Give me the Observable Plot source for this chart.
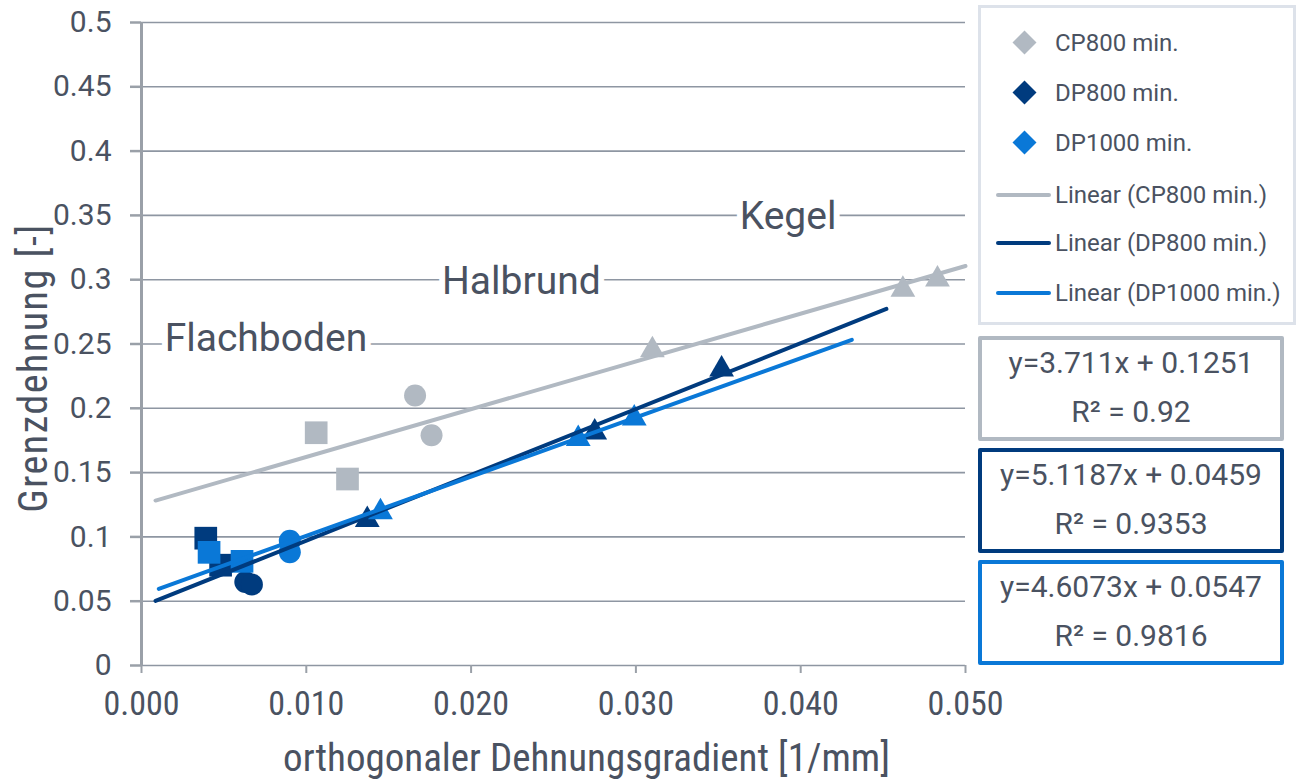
<!DOCTYPE html>
<html><head><meta charset="utf-8">
<script src="https://cdn.jsdelivr.net/npm/d3@7"></script>
<script src="https://cdn.jsdelivr.net/npm/@observablehq/plot@0.6"></script>
<style>
body{margin:0;background:#fff;}
#wrap{position:relative;width:1299px;height:779px;overflow:hidden;font-family:Roboto,"Noto Sans",sans-serif;color:#4a5261;}
#wrap svg{position:absolute;left:0;top:0;}
.legend{position:absolute;left:978px;top:5px;width:312px;height:314px;border:3px solid #dde2ea;background:#fff;}
.li{position:absolute;left:0;height:30px;font-size:24px;line-height:30px;white-space:nowrap;width:310px;}
.li .txt{position:absolute;left:74px;}
.dia{position:absolute;left:35px;top:6px;width:17px;height:17px;transform:rotate(45deg);}
.ln{position:absolute;left:15px;top:13px;width:55px;height:4px;border-radius:2px;}
.eq{position:absolute;left:978px;width:298px;height:97px;background:#fff;text-align:center;font-size:30px;}
.eq div{position:absolute;left:0;right:0;height:34px;line-height:34px;}
</style></head><body><div id="wrap"></div>
<script>
// series
const seriesNames = ["CP800 min.", "DP800 min.", "DP1000 min."];
const seriesColors = ["#b1b9c2", "#003b7e", "#0a78d7"];
// geometry of each point (marker shape)
const cpGeom    = ["Flachboden","Flachboden","Halbrund","Halbrund","Kegel","Kegel","Kegel"];
const cpX       = [0.0106, 0.0125, 0.0166, 0.0176, 0.0310, 0.0462, 0.0483];
const cpY       = [0.181, 0.145, 0.210, 0.179, 0.248, 0.295, 0.303];
const dp800Geom = ["Flachboden","Flachboden","Halbrund","Halbrund","Kegel","Kegel","Kegel"];
const dp800X    = [0.0039, 0.0048, 0.0063, 0.0067, 0.0137, 0.0275, 0.0352];
const dp800Y    = [0.099, 0.078, 0.065, 0.063, 0.116, 0.184, 0.233];
const dp1000Geom= ["Flachboden","Flachboden","Halbrund","Halbrund","Kegel","Kegel","Kegel"];
const dp1000X   = [0.0041, 0.0061, 0.0090, 0.0090, 0.0145, 0.0265, 0.0299];
const dp1000Y   = [0.088, 0.081, 0.097, 0.088, 0.122, 0.179, 0.195];
// trend lines (from the displayed equations)
const trendSlope     = [3.711, 5.1187, 4.6073];
const trendIntercept = [0.1251, 0.0459, 0.0547];
const trendR2        = ["0.92", "0.9353", "0.9816"];
const trendStart     = [0.00085, 0.00085, 0.00105];
const trendEnd       = [0.0500, 0.0452, 0.0431];
// annotations
const annoText = ["Flachboden", "Halbrund", "Kegel"];
const annoX    = [0.00755, 0.02305, 0.03923];
const annoY    = [0.254, 0.2985, 0.3495];
// ticks
const xTicks = [0, 0.01, 0.02, 0.03, 0.04, 0.05];
const yTicks = [0, 0.05, 0.1, 0.15, 0.2, 0.25, 0.3, 0.35, 0.4, 0.45, 0.5];
const xTitle = "orthogonaler Dehnungsgradient [1/mm]";
const yTitle = "Grenzdehnung [-]";

const symbolOf = {Flachboden: "square", Halbrund: "circle", Kegel: "triangle"};
const rOf = {Flachboden: 12.8, Halbrund: 11, Kegel: 9.2};

const points = [];
[[cpGeom, cpX, cpY], [dp800Geom, dp800X, dp800Y], [dp1000Geom, dp1000X, dp1000Y]].forEach(([g, xs, ys], s) => {
  xs.forEach((x, i) => points.push({series: seriesNames[s], geom: g[i], x, y: ys[i]}));
});
const trends = [];
seriesNames.forEach((name, s) => {
  [trendStart[s], trendEnd[s]].forEach(x => trends.push({series: name, x, y: trendSlope[s] * x + trendIntercept[s]}));
});
const annos = annoText.map((t, i) => ({t, x: annoX[i], y: annoY[i]}));

const textColor = "#4a5261";
const gridColor = "#8e96a2";
const condensed = "'Liberation Sans Narrow','Roboto Condensed','DejaVu Sans Condensed',Roboto,sans-serif";

const orderedDots = seriesNames.flatMap((name, s) =>
  ["Flachboden","Halbrund","Kegel"].map(geom =>
    Plot.dot(points.filter(d => d.geom === geom && d.series === name), {
      x: "x", y: "y", symbol: symbolOf[geom], r: rOf[geom],
      fill: seriesColors[s], stroke: "none",
      dy: geom === "Kegel" ? 3.5 : 0
    })
  )
);

const chart = Plot.plot({
  width: 1299, height: 779,
  marginLeft: 141, marginRight: 334, marginTop: 22, marginBottom: 114,
  x: {domain: [0, 0.05]},
  y: {domain: [0, 0.5]},
  style: {background: "transparent", color: textColor},
  marks: [
    Plot.gridY(yTicks, {stroke: gridColor, strokeOpacity: 1, strokeWidth: 1.6}),
    Plot.ruleX([0], {stroke: "#9aa0a8", strokeWidth: 3}),
    Plot.axisY({ticks: yTicks, tickSize: 11, tickPadding: 19, stroke: "#9aa0a8", strokeWidth: 2.5,
      fill: textColor, fontSize: 30, fontFamily: "Roboto,sans-serif",
      tickFormat: d => d === 0 ? "0" : String(+d.toFixed(2)), label: null}),
    Plot.axisX({ticks: xTicks, tickSize: 8, tickPadding: 17, stroke: "#9aa0a8", strokeWidth: 2,
      fill: textColor, fontSize: 34, fontFamily: condensed,
      tickFormat: d3.format(".3f"), label: null}),
    Plot.text(annos, {x: "x", y: "y", text: "t", fontSize: 39, fontFamily: "Roboto,sans-serif",
      fill: textColor, stroke: "white", strokeWidth: 12}),
    ...orderedDots,
    Plot.line(trends, {x: "x", y: "y", z: "series", stroke: d => seriesColors[seriesNames.indexOf(d.series)], strokeWidth: 4}),
    Plot.text([xTitle], {frameAnchor: "bottom", textAnchor: "middle", lineAnchor: "bottom", text: d => d, dy: 105, dx: 33, fontSize: 39,
      fontFamily: condensed, fill: textColor}),
    Plot.text([yTitle], {frameAnchor: "left", textAnchor: "middle", text: d => d, rotate: -90, dx: -107, dy: 24, fontSize: 40,
      fontFamily: condensed, fill: textColor, style: "letter-spacing:1.5px"})
  ]
});

const wrap = document.getElementById("wrap");
wrap.appendChild(chart);
chart.querySelectorAll("text").forEach(t => { if (t.textContent === yTitle) t.style.letterSpacing = "1.5px"; });

// legend
const leg = document.createElement("div");
leg.className = "legend";
const rows = [];
seriesNames.forEach((n, s) => rows.push({kind: "dia", label: n, color: seriesColors[s]}));
seriesNames.forEach((n, s) => rows.push({kind: "ln", label: `Linear (${n})`, color: seriesColors[s]}));
const rowCenters = [35, 85, 135, 187, 235, 285];
rows.forEach((r, i) => {
  const el = document.createElement("div");
  el.className = "li";
  el.style.top = (rowCenters[i] - 15) + "px";
  const m = document.createElement("div");
  m.className = r.kind;
  m.style.background = r.color;
  el.appendChild(m);
  const t = document.createElement("span");
  t.className = "txt";
  t.textContent = r.label;
  el.appendChild(t);
  leg.appendChild(el);
});
wrap.appendChild(leg);

// equation boxes
const eqTops = [336, 448, 560];
seriesNames.forEach((n, s) => {
  const b = document.createElement("div");
  b.className = "eq";
  b.style.top = eqTops[s] + "px";
  b.style.border = `4px solid ${seriesColors[s]}`;
  b.style.borderRadius = "2px";
  const l1 = document.createElement("div");
  l1.style.top = "6px";
  l1.textContent = `y=${trendSlope[s]}x + ${trendIntercept[s]}`;
  const l2 = document.createElement("div");
  l2.style.top = "55px";
  l2.textContent = `R² = ${trendR2[s]}`;
  b.appendChild(l1); b.appendChild(l2);
  wrap.appendChild(b);
});
</script></body></html>
